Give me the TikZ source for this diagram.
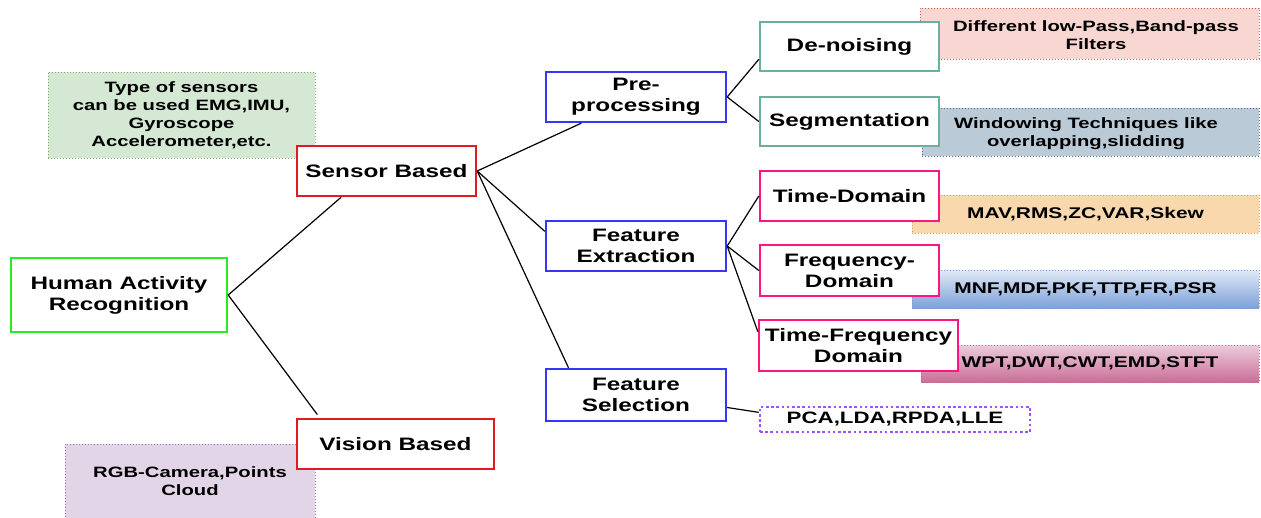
\documentclass[tikz,border=0pt]{standalone}
\usepackage{fontspec}
\newfontfamily\wf[FakeStretch=1.35]{Liberation Sans}
\usetikzlibrary{calc}
\definecolor{cgreen}{HTML}{22EE22}
\definecolor{cred}{HTML}{E01B24}
\definecolor{cblue}{HTML}{3636F5}
\definecolor{cteal}{HTML}{6CAF9E}
\definecolor{cpink}{HTML}{FF1584}
\definecolor{cpurple}{HTML}{A64DFF}
\definecolor{ngreenf}{HTML}{D5E8D4}
\definecolor{ngreend}{HTML}{82B366}
\definecolor{npurf}{HTML}{E1D5E7}
\definecolor{npurd}{HTML}{9673A6}
\definecolor{nredf}{HTML}{F8D6D1}
\definecolor{nredd}{HTML}{D06050}
\definecolor{nbluef}{HTML}{BACAD6}
\definecolor{nblued}{HTML}{4E6E9E}
\definecolor{norf}{HTML}{F9D8AE}
\definecolor{nord}{HTML}{E0A040}
\definecolor{nmnft}{HTML}{E0E9F7}
\definecolor{nmnfb}{HTML}{7DA1D8}
\definecolor{nmnfd}{HTML}{7A9BD6}
\definecolor{nwptt}{HTML}{EBCCDB}
\definecolor{nwptb}{HTML}{CB6E97}
\definecolor{nwptd}{HTML}{B86E90}
\begin{document}
\begin{tikzpicture}[x=1pt,y=-1pt,
  box/.style={draw, line width=2.4pt, fill=white, align=center, inner sep=0pt,
    font=\wf\bfseries\fontsize{18}{21}\selectfont, text=black},
  note/.style={draw, dotted, line width=1pt, align=center, inner sep=0pt,
    font=\wf\bfseries\fontsize{15}{18}\selectfont, text=black},
  ntext/.style={align=center, inner sep=0pt, font=\wf\bfseries\fontsize{15}{18}\selectfont, text=black},
  conn/.style={draw=black, line width=1.2pt}]
\useasboundingbox (0,0) rectangle (1261,517);
% notes
\node[note, draw=ngreend, fill=ngreenf, minimum width=267pt, minimum height=86pt] (nsens) at (181.5,115)
  {Type of sensors\\can be used EMG,IMU,\\Gyroscope\\Accelerometer,etc.};
\node[note, draw=npurd, fill=npurf, minimum width=250pt, minimum height=76pt] (nrgb) at (190,482) {};
\node[ntext] (trgb) at (190,481) {RGB-Camera,Points\\Cloud};
\node[note, draw=nredd, fill=nredf, minimum width=339pt, minimum height=51pt] (nfilt) at (1089.5,33.5) {};
\node[ntext] (tfilt) at (1096,35) {Different low-Pass,Band-pass\\Filters};
\node[note, draw=nblued, fill=nbluef, minimum width=337pt, minimum height=48pt] (nwin) at (1090.5,132) {};
\node[ntext] (twin) at (1086,134) {Windowing Techniques like\\overlapping,slidding};
\node[note, draw=nord, fill=norf, minimum width=347pt, minimum height=38pt, font=\wf\bfseries\fontsize{15.5}{18}\selectfont] (nmav) at (1085.5,214)
  {MAV,RMS,ZC,VAR,Skew};
\node[note, draw=nmnfd, top color=nmnft, bottom color=nmnfb, minimum width=347pt, minimum height=38pt, font=\wf\bfseries\fontsize{15.5}{18}\selectfont] (nmnf) at (1085.5,289)
  {MNF,MDF,PKF,TTP,FR,PSR};
\node[note, draw=nwptd, top color=nwptt, bottom color=nwptb, minimum width=338pt, minimum height=37pt, font=\wf\bfseries\fontsize{15.5}{18}\selectfont] (nwpt) at (1090,363.5)
  {WPT,DWT,CWT,EMD,STFT};
% main boxes
\node[box, draw=cgreen, minimum width=216pt, minimum height=74pt] (har) at (119,295) {Human Activity\\Recognition};
\node[box, draw=cred, minimum width=179pt, minimum height=50pt] (sb) at (386.5,171) {Sensor Based};
\node[box, draw=cred, minimum width=197pt, minimum height=50pt] (vb) at (395.5,444) {Vision Based};
\node[box, draw=cblue, minimum width=180pt, minimum height=50pt] (pre) at (636,97) {Pre-\\processing};
\node[box, draw=cblue, minimum width=180pt, minimum height=50pt] (fe) at (636,246) {Feature\\Extraction};
\node[box, draw=cblue, minimum width=180pt, minimum height=52pt] (fs) at (636,395) {Feature\\Selection};
\node[box, draw=cteal, minimum width=179pt, minimum height=49pt] (dn) at (849.5,46.5) {De-noising};
\node[box, draw=cteal, minimum width=179pt, minimum height=49pt] (seg) at (849.5,121.5) {Segmentation};
\node[box, draw=cpink, minimum width=179pt, minimum height=50pt] (td) at (849.5,196) {Time-Domain};
\node[box, draw=cpink, minimum width=179pt, minimum height=51pt] (fd) at (849.5,270.5) {Frequency-\\Domain};
\node[box, draw=cpink, minimum width=199pt, minimum height=51pt] (tfd) at (858.5,345.5) {Time-Frequency\\Domain};
\node[box, draw=cpurple, line width=2.6pt, dash pattern=on 2.6pt off 2.6pt, minimum width=270pt, minimum height=25pt,
  font=\wf\bfseries\fontsize{16.5}{19}\selectfont] (pca) at (895,419.5) {PCA,LDA,RPDA,LLE};
% connectors
\draw[conn] (har.east) -- ($(sb.south west)!0.25!(sb.south east)$);
\draw[conn, shorten >=4pt] (har.east) -- ($(vb.north west)!0.12!(vb.north east)$);
\draw[conn] (sb.east) -- ($(pre.south west)!0.2!(pre.south east)$);
\draw[conn] (sb.east) -- ($(fe.north west)!0.22!(fe.south west)$);
\draw[conn] (sb.east) -- ($(fs.north west)!0.13!(fs.north east)$);
\draw[conn] (pre.east) -- ($(dn.north west)!0.75!(dn.south west)$);
\draw[conn] (pre.east) -- (seg.west);
\draw[conn] (fe.east) -- (td.west);
\draw[conn] (fe.east) -- (fd.west);
\draw[conn] (fe.east) -- ($(tfd.north west)!0.24!(tfd.south west)$);
\draw[conn] ($(fs.north east)!0.73!(fs.south east)$) -- ($(pca.north west)!0.24!(pca.south west)$);
\end{tikzpicture}
\end{document}
